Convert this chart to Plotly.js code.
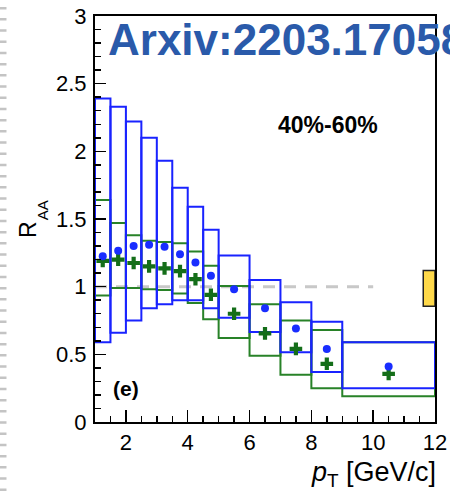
<!DOCTYPE html>
<html>
<head>
<meta charset="utf-8">
<script src="https://cdn.plot.ly/plotly-3.0.1.min.js"></script>
<style>
  html, body { margin: 0; padding: 0; background: #fff; }
  #chart { width: 450px; height: 496px; }
</style>
</head>
<body>
<div id="chart"></div>
<script>
// pT bin edges [GeV/c] and bin centres
const binEdges = [1, 1.5, 2, 2.5, 3, 3.5, 4, 4.5, 5, 6, 7, 8, 9, 12];
const ptCentres = [1.25, 1.75, 2.25, 2.75, 3.25, 3.75, 4.25, 4.75, 5.5, 6.5, 7.5, 8.5, 10.5];

// Blue series: R_AA with systematic band (low / high)
const blueRaa  = [1.225, 1.265, 1.30, 1.31, 1.295, 1.24, 1.178, 1.08, 0.98, 0.84, 0.69, 0.54, 0.41];
const blueHigh = [2.39, 2.33, 2.22, 2.10, 1.93, 1.73, 1.59, 1.42, 1.23, 1.05, 0.885, 0.74, 0.59];
const blueLow  = [0.59, 0.66, 0.75, 0.84, 0.87, 0.90, 0.90, 0.84, 0.77, 0.665, 0.515, 0.37, 0.25];

// Green series: R_AA with systematic band (low / high)
const greenRaa  = [1.19, 1.20, 1.175, 1.15, 1.135, 1.115, 1.055, 0.94, 0.80, 0.655, 0.54, 0.43, 0.355];
const greenHigh = [1.64, 1.47, 1.38, 1.34, 1.33, 1.32, 1.26, 1.155, 1.005, 0.87, 0.75, 0.68, 0.59];
const greenLow  = [0.935, 0.99, 0.99, 0.98, 0.975, 0.95, 0.88, 0.76, 0.62, 0.49, 0.35, 0.25, 0.19];

// Global normalisation uncertainty box at the right edge
const normBoxX = [11.62, 12];
const normBoxY = [0.855, 1.12];

// Unity reference line
const unityX = [1, 10];
const unityY = 1;

const BLUE_LINE = 'rgb(25,35,255)';
const GREEN_LINE = 'rgb(40,130,40)';
const FONT = 'Liberation Sans, Arial, Helvetica, sans-serif';

function bandShapes(lo, hi, color) {
  return lo.map((v, i) => ({
    type: 'rect', xref: 'x', yref: 'y',
    x0: binEdges[i], x1: binEdges[i + 1], y0: v, y1: hi[i],
    line: { color: color, width: 2 },
    fillcolor: 'rgba(0,0,0,0)',
    layer: 'below'
  }));
}

const shapes = [
  // page-edge dotted rule
  { type: 'line', xref: 'paper', yref: 'paper',
    x0: -0.2706, x1: -0.2706, y0: 1.05, y1: -0.19,
    line: { color: '#c4c4c4', width: 7, dash: '2.5px,8.7px' } },
  // unity line
  { type: 'line', xref: 'x', yref: 'y',
    x0: unityX[0], x1: unityX[1], y0: unityY, y1: unityY,
    line: { color: '#c8c8c8', width: 3, dash: '12px,9px' }, layer: 'below' },
  ...bandShapes(greenLow, greenHigh, GREEN_LINE),
  ...bandShapes(blueLow, blueHigh, BLUE_LINE),
  { type: 'rect', xref: 'x', yref: 'y',
    x0: normBoxX[0], x1: normBoxX[1], y0: normBoxY[0], y1: normBoxY[1],
    line: { color: '#222', width: 1.5 }, fillcolor: '#ffd94a', layer: 'above' }
];

const traces = [
  { x: ptCentres, y: greenRaa, type: 'scatter', mode: 'markers',
    marker: { symbol: 'cross', size: 10.5, color: 'rgb(20,110,25)', line: { width: 0 } },
    cliponaxis: true, hoverinfo: 'skip' },
  { x: ptCentres, y: blueRaa, type: 'scatter', mode: 'markers',
    marker: { symbol: 'circle', size: 8, color: 'rgb(25,45,255)', line: { width: 0 } },
    cliponaxis: true, hoverinfo: 'skip' }
];

const axisCommon = {
  showline: true, linecolor: '#000', linewidth: 2, mirror: true,
  ticks: 'inside', tickcolor: '#000', tickwidth: 1.5,
  showgrid: false, zeroline: false, fixedrange: true
};

const layout = {
  width: 450, height: 496,
  margin: { l: 95, r: 15, t: 16, b: 74 },
  paper_bgcolor: '#fff', plot_bgcolor: '#fff',
  showlegend: false,
  font: { family: FONT, color: '#000' },
  xaxis: Object.assign({}, axisCommon, {
    range: [1, 12], tick0: 0, dtick: 2, ticklen: 12,
    minor: { ticks: 'inside', dtick: 0.5, ticklen: 6, tickwidth: 1.5, tickcolor: '#000', showgrid: false },
    tickfont: { family: FONT, size: 22, color: '#000' },
    ticklabelstandoff: 0
  }),
  yaxis: Object.assign({}, axisCommon, {
    range: [0, 3], tick0: 0, dtick: 0.5, ticklen: 11,
    minor: { ticks: 'inside', dtick: 0.1, ticklen: 6, tickwidth: 1.5, tickcolor: '#000', showgrid: false },
    tickfont: { family: FONT, size: 22, color: '#000' },
    ticklabelstandoff: 2
  }),
  shapes: shapes,
  annotations: [
    { text: '<b>Arxiv:2203.17058</b>', xref: 'paper', yref: 'paper',
      x: 0.032, y: 0.9425, xanchor: 'left', yanchor: 'middle', showarrow: false,
      font: { family: FONT, size: 44, color: '#2a5aaa' } },
    { text: '<b>40%-60%</b>', xref: 'paper', yref: 'paper',
      x: 0.685, y: 0.7315, xanchor: 'center', yanchor: 'middle', showarrow: false,
      font: { family: FONT, size: 23, color: '#000' } },
    { text: '<b>(e)</b>', xref: 'paper', yref: 'paper',
      x: 0.091, y: 0.0825, xanchor: 'center', yanchor: 'middle', showarrow: false,
      font: { family: FONT, size: 21, color: '#000' } },
    // y-axis title: R with lowered AA index
    { text: 'R', xref: 'paper', yref: 'paper',
      x: -0.197, y: 0.473, xanchor: 'center', yanchor: 'middle', showarrow: false,
      textangle: -90, font: { family: FONT, size: 23, color: '#000' } },
    { text: 'AA', xref: 'paper', yref: 'paper',
      x: -0.155, y: 0.522, xanchor: 'center', yanchor: 'middle', showarrow: false,
      textangle: -90, font: { family: FONT, size: 15, color: '#000' } },
    { text: '<i>p</i><sub>T</sub> [GeV/c]', xref: 'paper', yref: 'paper',
      x: 1.008, y: -0.128, xanchor: 'right', yanchor: 'middle', showarrow: false,
      font: { family: FONT, size: 27, color: '#000' } }
  ]
};

Plotly.newPlot('chart', traces, layout, { staticPlot: true, displayModeBar: false });
</script>
</body>
</html>
